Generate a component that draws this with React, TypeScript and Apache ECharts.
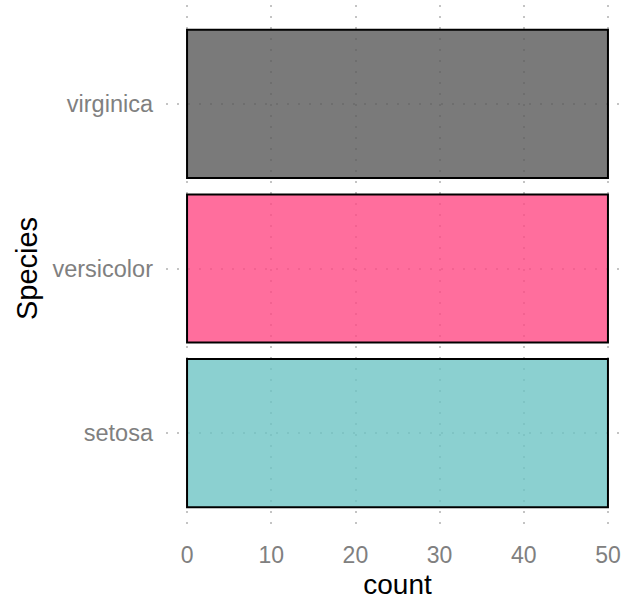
import React, { useEffect, useRef } from "react";
import * as echarts from "echarts";

const species = ["setosa", "versicolor", "virginica"];
const counts = [50, 50, 50];
const fills = ["rgba(110,196,196,0.8)", "rgba(255,74,132,0.8)", "rgba(89,89,89,0.8)"];
const xTicks = [0, 10, 20, 30, 40, 50];
const yPositions = [1, 2, 3];

export default function App() {
  const ref = useRef<HTMLDivElement>(null);
  useEffect(() => {
    if (!ref.current) return;
    const chart = echarts.init(ref.current, undefined, { renderer: "svg" });
    const font = "Liberation Sans, Arial, Helvetica, sans-serif";
    const gridLine = {
      show: true,
      lineStyle: { color: "#c4c4c4", width: 2, type: [2, 9] as any },
    };
    chart.setOption({
      animation: false,
      backgroundColor: "#ffffff",
      grid: {
        left: 166,
        top: 5,
        width: 463,
        height: 527,
        containLabel: false,
        outerBoundsMode: "none",
      },
      xAxis: {
        type: "value",
        min: -2.5,
        max: 52.5,
        axisLine: { show: false },
        axisTick: { show: false, customValues: xTicks },
        axisLabel: {
          customValues: xTicks,
          color: "#808080",
          fontSize: 23,
          fontFamily: font,
          margin: 11,
        },
        splitLine: gridLine,
        name: "count",
        nameLocation: "middle",
        nameGap: 36,
        nameTextStyle: { color: "#000000", fontSize: 28, fontFamily: font },
      },
      yAxis: {
        type: "value",
        min: 0.4,
        max: 3.6,
        axisLine: { show: false },
        axisTick: { show: false, customValues: yPositions },
        axisLabel: {
          customValues: yPositions,
          formatter: (v: number) => species[Math.round(v) - 1] ?? "",
          color: "#808080",
          fontSize: 23.5,
          fontFamily: font,
          margin: 13,
        },
        splitLine: gridLine,
        name: "Species",
        nameLocation: "middle",
        nameGap: 118,
        nameTextStyle: { color: "#000000", fontSize: 29, fontFamily: font },
      },
      series: [
        {
          type: "custom",
          data: counts.map((c, i) => [c, yPositions[i], i]),
          encode: { x: 0, y: 1 },
          renderItem: (params: any, api: any) => {
            const v = api.value(0);
            const y = api.value(1);
            const idx = api.value(2);
            const start = api.coord([0, y]);
            const end = api.coord([v, y]);
            const h = api.size([0, 0.9])[1];
            return {
              type: "rect",
              shape: {
                x: start[0],
                y: start[1] - h / 2,
                width: end[0] - start[0],
                height: h,
              },
              style: {
                fill: fills[idx],
                stroke: "#000000",
                lineWidth: 2,
              },
            };
          },
        },
      ],
    });
    return () => chart.dispose();
  }, []);
  return (
    <div
      ref={ref}
      style={{ position: "fixed", left: 0, top: 0, width: 625, height: 599 }}
    />
  );
}
